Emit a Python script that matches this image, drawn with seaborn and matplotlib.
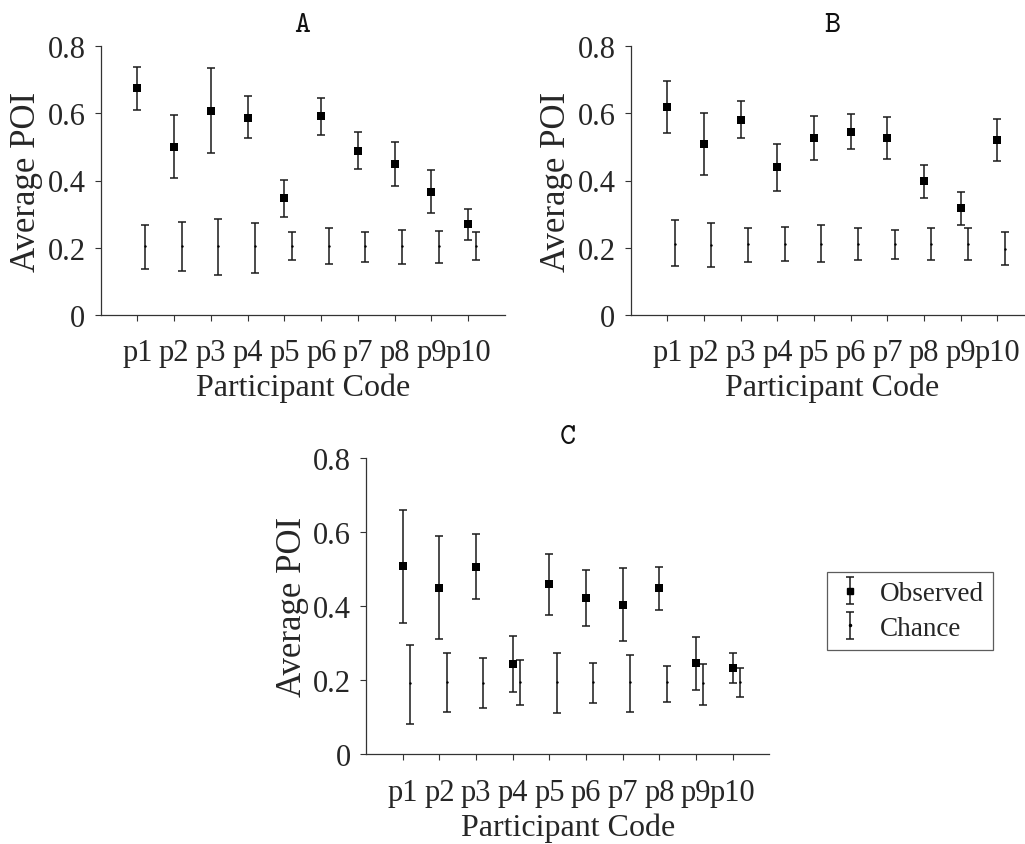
import numpy as np
import pandas as pd
import matplotlib
matplotlib.use("Agg")
import matplotlib.pyplot as plt
import seaborn as sns

participants = ["p1", "p2", "p3", "p4", "p5", "p6", "p7", "p8", "p9", "p10"]

# Panel A
a_obs = [0.676, 0.501, 0.608, 0.587, 0.348, 0.592, 0.489, 0.449, 0.367, 0.270]
a_obs_hi = [0.739, 0.595, 0.735, 0.651, 0.402, 0.647, 0.544, 0.516, 0.430, 0.315]
a_obs_lo = [0.610, 0.407, 0.483, 0.526, 0.292, 0.537, 0.434, 0.383, 0.304, 0.224]
a_ch = [0.204, 0.204, 0.206, 0.205, 0.205, 0.206, 0.205, 0.205, 0.205, 0.205]
a_ch_hi = [0.268, 0.275, 0.284, 0.274, 0.247, 0.257, 0.247, 0.252, 0.249, 0.246]
a_ch_lo = [0.136, 0.130, 0.118, 0.124, 0.163, 0.150, 0.156, 0.150, 0.155, 0.164]

# Panel B
b_obs = [0.620, 0.509, 0.581, 0.439, 0.528, 0.546, 0.528, 0.398, 0.318, 0.521]
b_obs_hi = [0.697, 0.600, 0.638, 0.509, 0.593, 0.599, 0.588, 0.445, 0.367, 0.584]
b_obs_lo = [0.543, 0.417, 0.526, 0.370, 0.462, 0.494, 0.464, 0.349, 0.268, 0.457]
b_ch = [0.210, 0.209, 0.210, 0.211, 0.211, 0.210, 0.210, 0.210, 0.211, 0.196]
b_ch_hi = [0.281, 0.272, 0.259, 0.262, 0.266, 0.259, 0.253, 0.257, 0.258, 0.246]
b_ch_lo = [0.144, 0.141, 0.157, 0.159, 0.157, 0.163, 0.165, 0.164, 0.164, 0.149]

# Panel C
c_obs = [0.508, 0.450, 0.506, 0.244, 0.459, 0.422, 0.404, 0.448, 0.245, 0.233]
c_obs_hi = [0.660, 0.590, 0.594, 0.320, 0.540, 0.498, 0.502, 0.505, 0.317, 0.274]
c_obs_lo = [0.355, 0.311, 0.418, 0.168, 0.377, 0.345, 0.306, 0.390, 0.174, 0.191]
c_ch = [0.191, 0.195, 0.192, 0.194, 0.195, 0.194, 0.194, 0.194, 0.192, 0.194]
c_ch_hi = [0.294, 0.274, 0.260, 0.255, 0.274, 0.246, 0.267, 0.239, 0.244, 0.233]
c_ch_lo = [0.080, 0.113, 0.124, 0.133, 0.112, 0.137, 0.114, 0.142, 0.133, 0.153]

titles = ["A", "B", "C"]
yticks = [0, 0.2, 0.4, 0.6, 0.8]
ytick_labels = ["0", "0.2", "0.4", "0.6", "0.8"]

sns.set_style("ticks")
plt.rcParams["font.family"] = ["Liberation Serif", "DejaVu Serif"]
plt.rcParams["mathtext.fontset"] = "cm"

fig = plt.figure(figsize=(10.25, 8.45), dpi=100)
W, H = 1025, 845
def ax_rect(l, r, t, b):
    return [l / W, 1 - b / H, (r - l) / W, (b - t) / H]

ax_a = fig.add_axes(ax_rect(100.7, 505.0, 47.3, 315.7))
ax_b = fig.add_axes(ax_rect(630.7, 1034.0, 47.3, 315.7))
ax_c = fig.add_axes(ax_rect(366.0, 769.3, 459.3, 755.0))

panels = [
    (ax_a, a_obs, a_obs_lo, a_obs_hi, a_ch, a_ch_lo, a_ch_hi),
    (ax_b, b_obs, b_obs_lo, b_obs_hi, b_ch, b_ch_lo, b_ch_hi),
    (ax_c, c_obs, c_obs_lo, c_obs_hi, c_ch, c_ch_lo, c_ch_hi),
]

ecol = "#1a1a1a"
for (ax, obs, olo, ohi, ch, clo, chi), title in zip(panels, titles):
    x = np.arange(1, len(participants) + 1)
    df = pd.DataFrame({
        "x": np.concatenate([x, x + 0.2]),
        "y": np.concatenate([obs, ch]),
        "kind": ["Observed"] * len(x) + ["Chance"] * len(x),
    })
    obs = np.array(obs); ch = np.array(ch)
    ax.errorbar(x, obs, yerr=[obs - np.array(olo), np.array(ohi) - obs],
                fmt="none", ecolor=ecol, elinewidth=1.1, capsize=2.6, capthick=1.1)
    ax.errorbar(x + 0.2, ch, yerr=[ch - np.array(clo), np.array(chi) - ch],
                fmt="none", ecolor=ecol, elinewidth=1.1, capsize=2.6, capthick=1.1)
    sns.scatterplot(data=df[df.kind == "Observed"], x="x", y="y", ax=ax,
                    marker="s", s=36, color="black", edgecolor="black", linewidth=0,
                    legend=False, zorder=3)
    sns.scatterplot(data=df[df.kind == "Chance"], x="x", y="y", ax=ax,
                    marker="o", s=3, color="black", linewidth=0, legend=False, zorder=3)
    ax.set_xlim(0, 11)
    ax.set_ylim(0, 0.8)
    ax.set_xticks(x)
    ax.set_xticklabels(participants)
    ax.set_yticks(yticks)
    ax.set_yticklabels(ytick_labels)
    ax.tick_params(axis="both", labelsize=22, length=4, width=0.8, color="#333333",
                   direction="out")
    ax.tick_params(axis="x", pad=13)
    ax.tick_params(axis="y", pad=7)
    ax.set_xlabel("Participant Code", fontsize=23, labelpad=4)
    ax.set_ylabel("Average POI", fontsize=25, labelpad=3)
    # Courier-like typewriter face (Computer Modern typewriter via mathtext)
    ax.set_title(r"$\mathtt{" + title + "}$", fontsize=22, pad=11, color="#111111")
    sns.despine(ax=ax)
    for sp in ["left", "bottom"]:
        ax.spines[sp].set_linewidth(0.9)
        ax.spines[sp].set_color("#333333")

# Legend handles: errorbar containers drawn outside the visible range of panel C
eb1 = ax_c.errorbar([-5], [0.5], yerr=[[0.05], [0.05]], fmt="s", color="black",
                    ecolor=ecol, markersize=5, elinewidth=1.1, capsize=2.6, capthick=1.1)
eb2 = ax_c.errorbar([-5], [0.5], yerr=[[0.05], [0.05]], fmt="o", color="black",
                    ecolor=ecol, markersize=1.5, elinewidth=1.1, capsize=2.6, capthick=1.1)
leg = fig.legend([eb1, eb2], ["Observed", "Chance"], loc="upper left",
                 bbox_to_anchor=(826.7 / W, 1 - 572.7 / H), fontsize=19.5,
                 frameon=True, fancybox=False, edgecolor="#333333",
                 handlelength=1.0, handletextpad=0.6, borderpad=0.35,
                 labelspacing=0.35, borderaxespad=0)
leg.get_frame().set_linewidth(0.9)

fig.savefig("out.png", dpi=100)
